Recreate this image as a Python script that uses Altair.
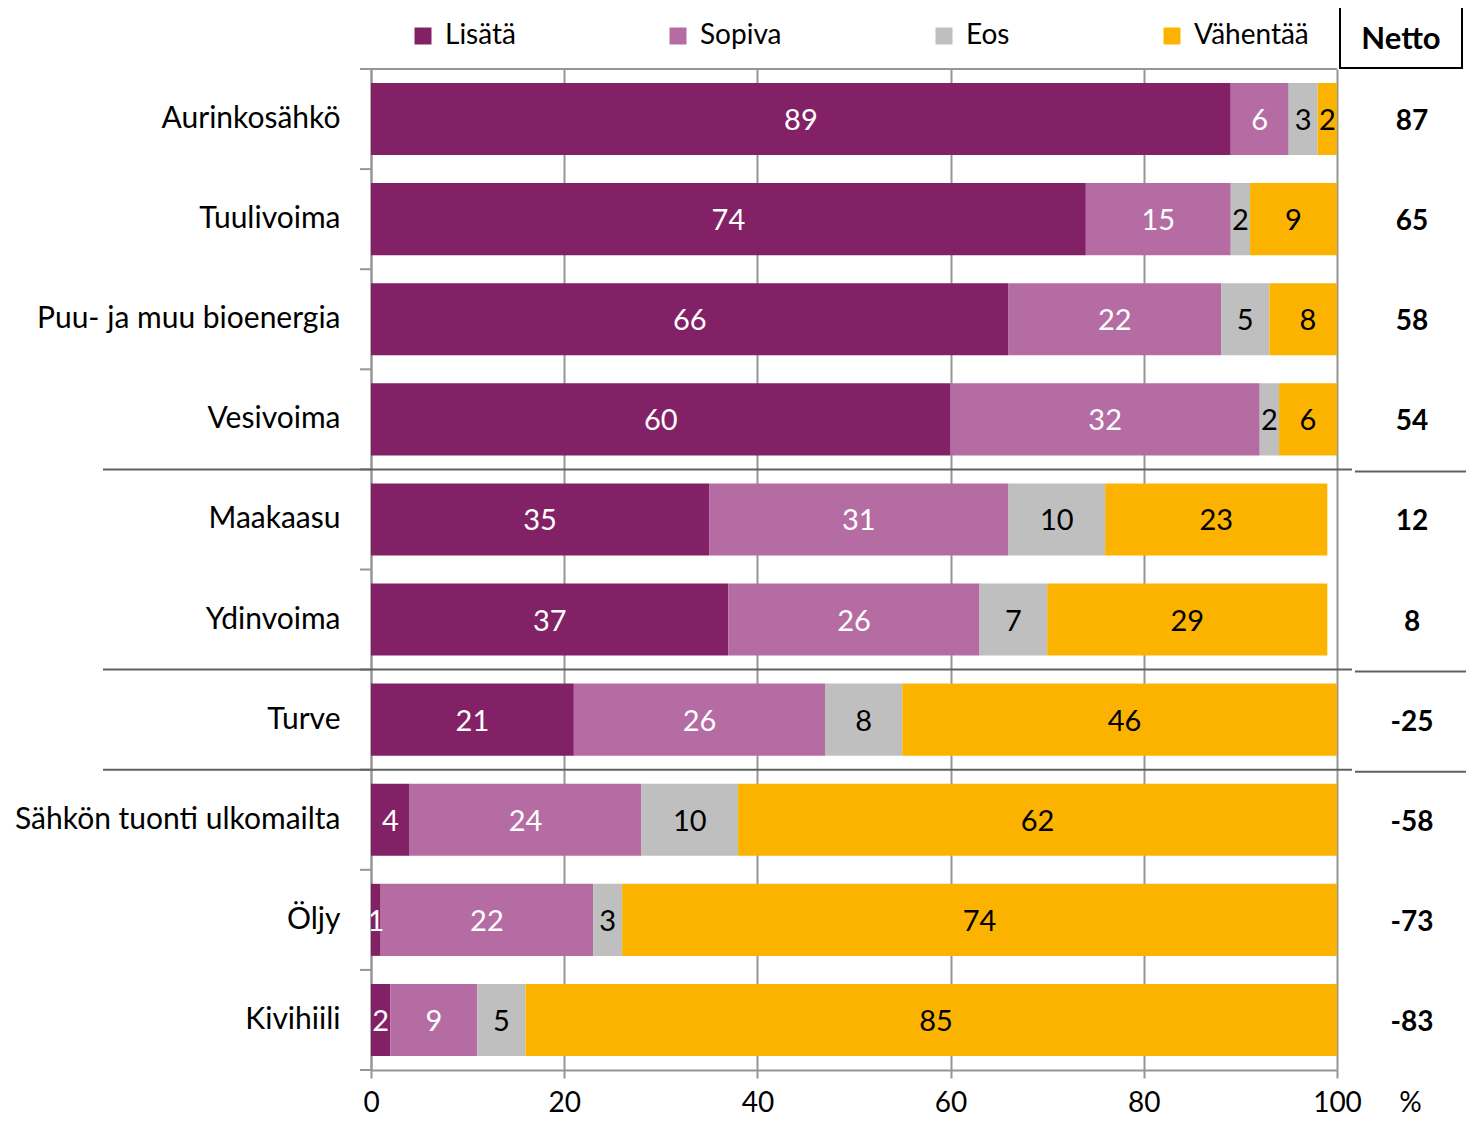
import altair as alt
import pandas as pd

categories = ["Aurinkosähkö", "Tuulivoima", "Puu- ja muu bioenergia", "Vesivoima",
              "Maakaasu", "Ydinvoima", "Turve", "Sähkön tuonti ulkomailta", "Öljy", "Kivihiili"]
groups = ["Lisätä", "Sopiva", "Eos", "Vähentää"]
lisata = [89, 74, 66, 60, 35, 37, 21, 4, 1, 2]
sopiva = [6, 15, 22, 32, 31, 26, 26, 24, 22, 9]
eos = [3, 2, 5, 2, 10, 7, 8, 10, 3, 5]
vahentaa = [2, 9, 8, 6, 23, 29, 46, 62, 74, 85]
netto = [87, 65, 58, 54, 12, 8, -25, -58, -73, -83]
separators = ["Maakaasu", "Turve", "Sähkön tuonti ulkomailta"]
x_ticks = [0, 20, 40, 60, 80, 100]

colors = ["#832166", "#B46CA3", "#BFBFBF", "#FBB300"]
text_colors = ["white", "white", "black", "black"]

rows = []
for i, c in enumerate(categories):
    for j, vals in enumerate([lisata, sopiva, eos, vahentaa]):
        rows.append({"cat": c, "group": groups[j], "value": vals[i], "order": j,
                     "tcolor": text_colors[j]})
df = pd.DataFrame(rows)
netto_df = pd.DataFrame({"cat": categories, "netto": netto,
                         "label": [str(v) for v in netto]})
sep_df = pd.DataFrame({"cat": separators})
cat_df = pd.DataFrame({"cat": categories})
top_df = pd.DataFrame({"cat": [categories[0]]})
bot_df = pd.DataFrame({"cat": [categories[-1]]})
head_df = pd.DataFrame({"t": ["Netto"]})

FONT = "Lato"
GRAY = "#969696"

yscale = alt.Scale(domain=categories, paddingInner=0.28, paddingOuter=0.14)
xscale = alt.Scale(domain=[0, 100], nice=False)

Y = alt.Y("cat:N", sort=categories, scale=yscale,
          axis=alt.Axis(title=None, ticks=False, domainColor=GRAY, domainWidth=2,
                        labelFontSize=30, labelColor="black", labelPadding=31, labelFont=FONT,
                        grid=False, labelLimit=500))

xaxis = alt.Axis(values=x_ticks, grid=True, gridColor=GRAY, gridWidth=2, domainColor=GRAY,
                 domainWidth=2, tickColor=GRAY, tickWidth=2, tickSize=8, labelFontSize=28,
                 labelFont=FONT, labelColor="black", labelPadding=11, labelFlush=False,
                 title="%", titleX=1039, titleY=33, titleFontWeight="normal", titleFontSize=28,
                 titleFont=FONT, titleAlign="center", titleBaseline="middle", titleColor="black")

stack = dict(stack="value", groupby=["cat"], as_=["x0", "x1"], sort=[alt.SortField("order")])

bars = alt.Chart(df).transform_stack(**stack).mark_bar(clip=True).encode(
    x=alt.X("x0:Q", scale=xscale, axis=xaxis),
    x2="x1:Q",
    y=Y,
    color=alt.Color("group:N", scale=alt.Scale(domain=groups, range=colors),
                    legend=alt.Legend(title=None, orient="none", legendX=38, legendY=-47,
                                      direction="horizontal", columnPadding=148,
                                      symbolType="square", symbolSize=289, symbolStrokeWidth=0,
                                      labelFontSize=28, labelFont=FONT, labelColor="black",
                                      labelOffset=8)),
    order=alt.Order("order:Q"),
)

texts = alt.Chart(df).transform_stack(**stack).transform_calculate(
    mid="(datum.x0 + datum.x1) / 2"
).mark_text(fontSize=29, font=FONT, baseline="middle", align="center", clip=True, dy=2).encode(
    x=alt.X("mid:Q", scale=xscale),
    y=Y,
    text="value:Q",
    color=alt.Color("tcolor:N", scale=None),
)

netto_text = alt.Chart(netto_df).mark_text(fontSize=28, font=FONT, fontWeight="bold",
                                           baseline="middle", align="center", dy=3,
                                           color="black").encode(
    x=alt.value(1041), y=Y, text="label:N")

ytick = alt.Chart(cat_df).mark_rule(color=GRAY, strokeWidth=2, yOffset=-14).encode(
    y=alt.Y("cat:N", sort=categories, scale=yscale, bandPosition=0),
    x=alt.value(-11), x2=alt.value(0))
ytick_end = alt.Chart(bot_df).mark_rule(color=GRAY, strokeWidth=2, yOffset=14).encode(
    y=alt.Y("cat:N", sort=categories, scale=yscale, bandPosition=1),
    x=alt.value(-11), x2=alt.value(0))

sep1 = alt.Chart(sep_df).mark_rule(color="#606060", strokeWidth=2, yOffset=-14).encode(
    y=alt.Y("cat:N", sort=categories, scale=yscale, bandPosition=0),
    x=alt.value(-268), x2=alt.value(981))
sep2 = alt.Chart(sep_df).mark_rule(color="#606060", strokeWidth=2, yOffset=-12).encode(
    y=alt.Y("cat:N", sort=categories, scale=yscale, bandPosition=0),
    x=alt.value(984), x2=alt.value(1095))

top_rule = alt.Chart(top_df).mark_rule(color=GRAY, strokeWidth=2, yOffset=-14).encode(
    y=alt.Y("cat:N", sort=categories, scale=yscale, bandPosition=0),
    x=alt.value(-11), x2=alt.value(966))

head_box = alt.Chart(head_df).mark_rect(fill="white", stroke="black", strokeWidth=2).encode(
    x=alt.value(969), x2=alt.value(1091), y=alt.value(-62), y2=alt.value(-1))
head_text = alt.Chart(head_df).mark_text(fontSize=31, font=FONT, fontWeight="bold",
                                         baseline="middle", align="center",
                                         color="black").encode(
    x=alt.value(1030), y=alt.value(-29), text="t:N")

chart = alt.layer(bars, texts, netto_text, ytick, ytick_end, top_rule, sep1, sep2,
                  head_box, head_text).properties(
    width=966, height=1001,
    padding={"left": 363, "top": 61, "right": 129, "bottom": 50},
    autosize=alt.AutoSizeParams(type="none"),
    background="white",
).configure_view(stroke=None)

chart.save("out.html", embed_options={"renderer": "svg", "actions": False})
